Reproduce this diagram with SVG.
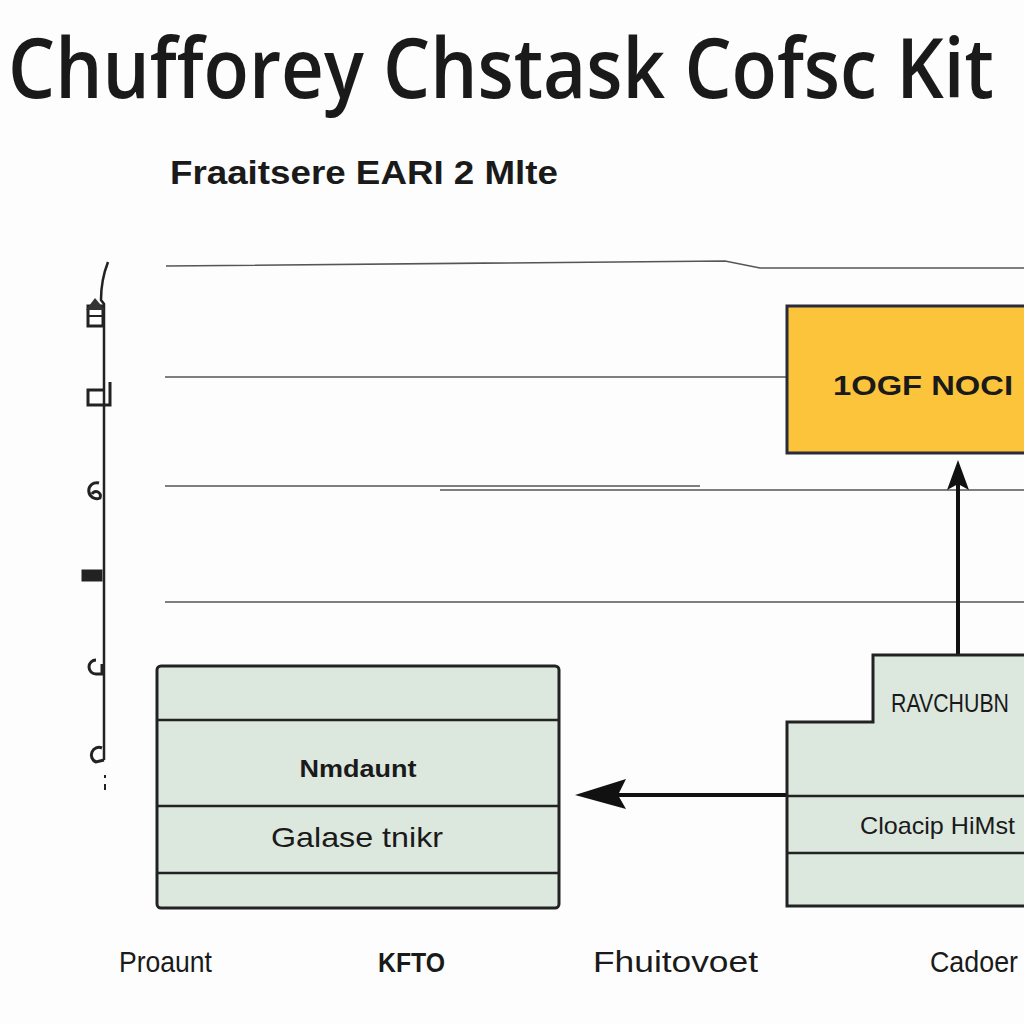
<svg xmlns="http://www.w3.org/2000/svg" width="1024" height="1024" viewBox="0 0 1024 1024">
<defs>
<style>
.t{font-family:"Liberation Sans","DejaVu Sans",sans-serif;fill:#1a1a1a}
.guide{stroke:#555;stroke-width:1.6;fill:none}
.box{fill:#dce8de;stroke:#222;stroke-width:3}
.div{stroke:#222;stroke-width:2.5}
.conn{stroke:#111;stroke-width:4;fill:none}
.head{fill:#111}
.ico{fill:#222;stroke:#222}
</style>
</defs>
<rect width="1024" height="1024" fill="#fdfdfd"/>

<text class="t" transform="translate(8,98) scale(1,1.25)" x="0" y="0" font-size="67" font-weight="600" style="font-family:'Open Sans','Liberation Sans',sans-serif" textLength="986" lengthAdjust="spacingAndGlyphs">Chufforey Chstask Cofsc Kit</text>
<text class="t" x="170" y="184" font-size="33" font-weight="bold" textLength="388" lengthAdjust="spacingAndGlyphs">Fraaitsere EARI 2 Mlte</text>

<g id="guides">
<path class="guide" d="M166,266 L725,261 L760,268 L1024,268"/>
<line class="guide" x1="165" y1="377" x2="787" y2="377"/>
<line class="guide" x1="165" y1="486" x2="700" y2="486"/>
<line class="guide" x1="440" y1="490" x2="1024" y2="490" stroke="#888"/>
<line class="guide" x1="165" y1="602" x2="1024" y2="602"/>
</g>

<g id="axis">
<path d="M108,262 Q101,280 101,300 L104,304 L104,760" fill="none" stroke="#222" stroke-width="2.5"/>
<rect x="88" y="306" width="15" height="20" fill="none" stroke="#222" stroke-width="3"/>
<path d="M86,310 L95,298 L105,310 z" fill="#333"/>
<line x1="88" y1="316" x2="103" y2="316" stroke="#222" stroke-width="2"/>
<path d="M110,382 V405 H88 V390 H104" fill="none" stroke="#222" stroke-width="3"/>
<path d="M99,483 A8,8 0 1 0 100,498 A4,4 0 0 0 92,494" fill="none" stroke="#222" stroke-width="3"/>
<rect class="ico" x="82" y="570" width="20" height="11"/>
<path d="M96,660 A7,7 0 1 0 96,674 L102,674 L102,664" fill="none" stroke="#222" stroke-width="3"/>
<path d="M102,748 A7,7 0 1 0 96,762 L104,760" fill="none" stroke="#222" stroke-width="3"/>
<line x1="105" y1="775" x2="105" y2="778" stroke="#222" stroke-width="2"/>
<line x1="105" y1="784" x2="105" y2="790" stroke="#222" stroke-width="2"/>
</g>

<g id="connectors">
<line class="conn" x1="958" y1="655" x2="958" y2="480" stroke-width="3.5"/>
<path class="head" d="M958,460 L969,490 L958,484 L947,490 z"/>
<line class="conn" x1="787" y1="795" x2="600" y2="795"/>
<path class="head" d="M575,795 L626,779 L618,795 L626,809 z"/>
</g>

<g id="node-yellow">
<rect x="787" y="306" width="250" height="147" fill="#fbc43b" stroke="#2a2a3a" stroke-width="3"/>
<text class="t" x="833" y="395" font-size="27" font-weight="bold" textLength="180" lengthAdjust="spacingAndGlyphs">1OGF NOCI</text>
</g>

<g id="node-left">
<rect class="box" x="157" y="666" width="402" height="242" rx="4"/>
<line class="div" x1="157" y1="720" x2="559" y2="720"/>
<line class="div" x1="157" y1="806" x2="559" y2="806"/>
<line class="div" x1="157" y1="873" x2="559" y2="873"/>
<text class="t" x="358" y="777" font-size="24" font-weight="bold" text-anchor="middle" textLength="117" lengthAdjust="spacingAndGlyphs">Nmdaunt</text>
<text class="t" x="357" y="847" font-size="28" text-anchor="middle" textLength="172" lengthAdjust="spacingAndGlyphs">Galase tnikr</text>
</g>

<g id="node-right">
<path class="box" d="M1030,655 H873 V722 H787 V906 H1030"/>
<line class="div" x1="787" y1="796" x2="1024" y2="796" stroke-width="3.5"/>
<line class="div" x1="787" y1="853" x2="1024" y2="853" stroke-width="2"/>
<text class="t" transform="translate(891,712) scale(1,1.25)" x="0" y="0" font-size="21" textLength="118" lengthAdjust="spacingAndGlyphs">RAVCHUBN</text>
<text class="t" x="860" y="834" font-size="24" textLength="155" lengthAdjust="spacingAndGlyphs">Cloacip HiMst</text>
</g>

<g id="labels">
<text class="t" x="119" y="972" font-size="29" textLength="93" lengthAdjust="spacingAndGlyphs">Proaunt</text>
<text class="t" x="378" y="972" font-size="27" font-weight="bold" textLength="67" lengthAdjust="spacingAndGlyphs">KFTO</text>
<text class="t" x="593" y="972" font-size="29" textLength="165" lengthAdjust="spacingAndGlyphs">Fhuitovoet</text>
<text class="t" x="930" y="972" font-size="29" textLength="88" lengthAdjust="spacingAndGlyphs">Cadoer</text>
</g>
</svg>
